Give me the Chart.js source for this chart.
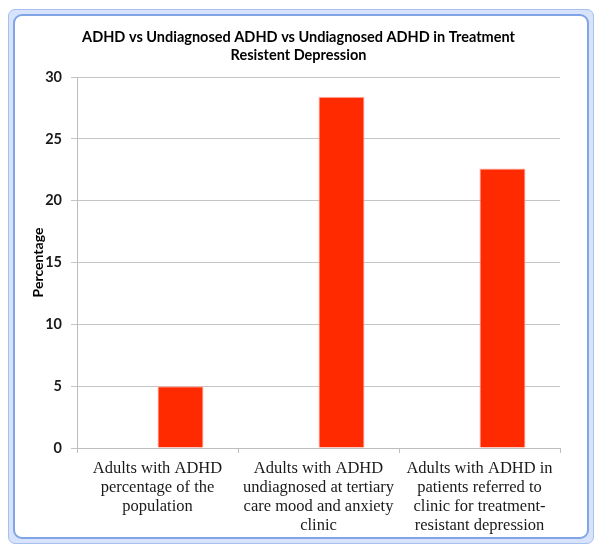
<!DOCTYPE html>
<html lang="en">
<head>
  <meta charset="UTF-8" />
  <title>ADHD vs Undiagnosed ADHD</title>
  <script src="https://cdn.jsdelivr.net/npm/chart.js"></script>
  <style>
    html, body { margin: 0; padding: 0; background: #fff; }
    body { width: 600px; height: 552px; position: relative; overflow: hidden; }
    .frame {
      position: absolute; left: 8px; top: 9px; width: 586px; height: 535px;
      box-sizing: border-box; background: #d6e3fa; border: 1px solid #a8c0ee; border-radius: 7px;
    }
    .inner {
      position: absolute; left: 4px; top: 4px; right: 4px; bottom: 4px;
      background: #fff; border: 2px solid #80a4e6; border-radius: 9px;
    }
    .chart-wrapper { position: absolute; left: 15px; top: 16px; width: 571px; height: 520px; }
  </style>
</head>
<body>
<div class="frame"><div class="inner"></div></div>
<div class="chart-wrapper">
  <canvas id="adhdChart"></canvas>
</div>

<script>
  // data
  const categories = [
    ['Adults with ADHD', 'percentage of the', 'population'],
    ['Adults with ADHD', 'undiagnosed at tertiary', 'care mood and anxiety', 'clinic'],
    ['Adults with ADHD in', 'patients referred to', 'clinic for treatment-', 'resistant depression']
  ];
  const emptySeries = [null, null, null];   // excel left an empty series slot on the left
  const percentages = [5, 28.4, 22.6];
  const yTicks = [0, 5, 10, 15, 20, 25, 30];

  const titleText = ['ADHD vs Undiagnosed ADHD vs Undiagnosed ADHD in Treatment', 'Resistent Depression'];
  const sans = 'Lato, "Open Sans", sans-serif';

  // chart title centred on the whole frame, not on the plot (the built-in one shifts with the right padding)
  const frameTitle = {
    id: 'frameTitle',
    afterDraw(chart) {
      const c = chart.ctx;
      c.save();
      c.fillStyle = '#000';
      c.font = 'bold 14.5px ' + sans;
      c.textAlign = 'center';
      c.textBaseline = 'middle';
      titleText.forEach((line, i) => c.fillText(line, chart.width / 2 - 2, 21 + i * 18));
      c.restore();
    }
  };

  const ctx = document.getElementById('adhdChart').getContext('2d');
  new Chart(ctx, {
    type: 'bar',
    data: {
      labels: categories,
      datasets: [
        { label: 'blank', data: emptySeries, backgroundColor: 'transparent' },
        {
          label: 'Percentage',
          data: percentages,
          backgroundColor: '#ff2a00',
          borderColor: 'rgba(255,170,160,0.9)',
          borderWidth: 1
        }
      ]
    },
    plugins: [frameTitle],
    options: {
      responsive: true,
      maintainAspectRatio: false,
      animation: false,
      layout: { padding: { top: 61, right: 26, bottom: 0, left: 0 } },
      datasets: { bar: { categoryPercentage: 2 / 3.5, barPercentage: 1 } },
      plugins: {
        legend: { display: false },
        tooltip: { enabled: false },
        title: { display: false }
      },
      scales: {
        x: {
          grid: { display: true, drawOnChartArea: false, offset: true, color: '#bdbdbd', tickLength: 5 },
          border: { color: '#bdbdbd' },
          ticks: {
            color: '#1a1a1a',
            padding: 6,
            maxRotation: 0,
            font: { family: '"Liberation Serif", serif', size: 16.5, lineHeight: 1.16 }
          },
          afterFit: scale => { scale.height = 88; }
        },
        y: {
          min: 0,
          max: 30,
          afterBuildTicks: scale => { scale.ticks = yTicks.map(v => ({ value: v })); },
          grid: { color: '#c4c4c4', tickLength: 6 },
          border: { color: '#bdbdbd' },
          ticks: {
            color: '#1a1a1a',
            padding: 9,
            font: { family: sans, size: 14.5, weight: 'bold' }
          },
          title: {
            display: true,
            text: 'Percentage',
            color: '#000',
            font: { family: sans, size: 14, weight: 'bold' },
            padding: { top: 15, bottom: 0 }
          },
          afterFit: scale => { scale.width = 62; }
        }
      }
    }
  });
</script>
</body>
</html>
